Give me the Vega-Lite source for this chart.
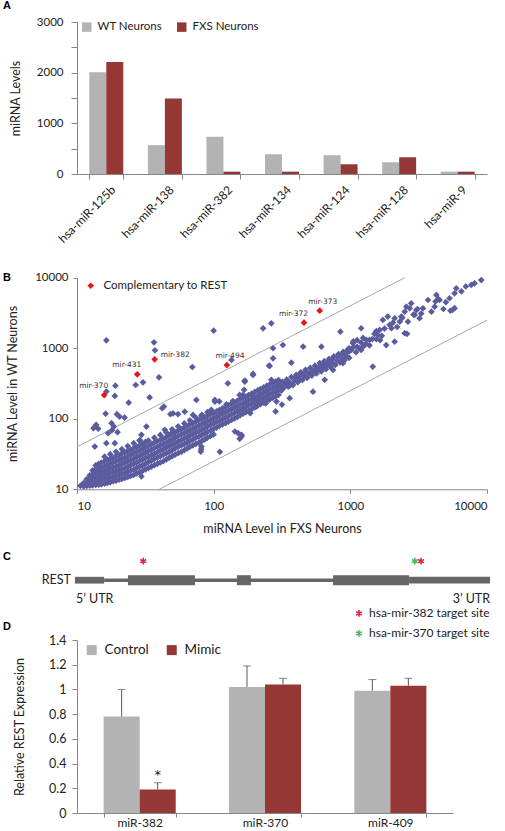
{
  "$schema": "https://vega.github.io/schema/vega-lite/v6.json",
  "background": "white",
  "padding": {"left": 3, "top": 0, "right": 0, "bottom": 0},
  "bounds": "flush",
  "spacing": 0,
  "resolve": {"scale": {"color": "independent", "xOffset": "independent", "strokeWidth": "independent", "x": "independent", "y": "independent"}},
  "config": {
    "view": {"stroke": null},
    "font": "Lato",
    "axis": {"domainColor": "#868686", "tickColor": "#868686", "labelColor": "#222222", "titleColor": "#222222", "labelFont": "Lato", "titleFont": "Lato", "titleFontWeight": "normal", "grid": false, "labelOverlap": false},
    "legend": {"labelFont": "Lato", "labelColor": "#222222", "padding": 0, "title": null},
    "title": {"font": "Liberation Sans", "fontSize": 11, "fontWeight": "bold", "color": "#000000", "anchor": "start", "frame": "group", "dx": -74, "baseline": "alphabetic"}
  },
  "datasets": {
    "lines": [
      {"band": "upper", "fxs": 10, "wt": 40}, {"band": "upper", "fxs": 2500, "wt": 10000},
      {"band": "lower", "fxs": 40, "wt": 10}, {"band": "lower", "fxs": 10000, "wt": 2500}
    ],
    "rest": [
      {"name": "mir-373", "fxs": 597, "wt": 3404, "group": "Complementary to REST"},
      {"name": "mir-372", "fxs": 458, "wt": 2303, "group": "Complementary to REST"},
      {"name": "mir-494", "fxs": 125, "wt": 578, "group": "Complementary to REST"},
      {"name": "mir-382", "fxs": 37, "wt": 696, "group": "Complementary to REST"},
      {"name": "mir-431", "fxs": 27.6, "wt": 427, "group": "Complementary to REST"},
      {"name": "mir-370", "fxs": 15.8, "wt": 217, "group": "Complementary to REST"}
    ],
    "scatter": [
      {"fxs":10.6,"wt":11.2},
      {"fxs":11.2,"wt":11},{"fxs":11.2,"wt":12.3},
      {"fxs":11.8,"wt":11.2},{"fxs":11.8,"wt":12.5},{"fxs":11.8,"wt":14},
      {"fxs":12.4,"wt":11.3},{"fxs":12.4,"wt":12.6},{"fxs":12.4,"wt":14},{"fxs":12.4,"wt":15.8},
      {"fxs":13,"wt":11.4},{"fxs":13,"wt":12.8},{"fxs":13,"wt":14.4},{"fxs":13,"wt":16.3},{"fxs":13,"wt":18.5},
      {"fxs":13.7,"wt":11.5},{"fxs":13.7,"wt":13},{"fxs":13.7,"wt":14.7},{"fxs":13.7,"wt":16.7},{"fxs":13.7,"wt":19},{"fxs":13.7,"wt":21.8},
      {"fxs":14.4,"wt":11.6},{"fxs":14.4,"wt":13.2},{"fxs":14.4,"wt":15},{"fxs":14.4,"wt":17.2},{"fxs":14.4,"wt":19.8},{"fxs":14.4,"wt":23},
      {"fxs":15.1,"wt":11.8},{"fxs":15.1,"wt":13.5},{"fxs":15.1,"wt":15.5},{"fxs":15.1,"wt":17.8},{"fxs":15.1,"wt":20.5},{"fxs":15.1,"wt":24},
      {"fxs":15.9,"wt":12},{"fxs":15.9,"wt":13.8},{"fxs":15.9,"wt":16},{"fxs":15.9,"wt":18.4},{"fxs":15.9,"wt":21.3},{"fxs":15.9,"wt":25},{"fxs":15.9,"wt":29},
      {"fxs":16.7,"wt":12.3},{"fxs":16.7,"wt":14.2},{"fxs":16.7,"wt":16.5},{"fxs":16.7,"wt":19},{"fxs":16.7,"wt":22},{"fxs":16.7,"wt":26},
      {"fxs":17.5,"wt":12.6},{"fxs":17.5,"wt":14.6},{"fxs":17.5,"wt":17},{"fxs":17.5,"wt":19.7},{"fxs":17.5,"wt":23},{"fxs":17.5,"wt":27},{"fxs":17.5,"wt":31.5},
      {"fxs":18.4,"wt":13},{"fxs":18.4,"wt":15},{"fxs":18.4,"wt":17.5},{"fxs":18.4,"wt":20.4},{"fxs":18.4,"wt":24},{"fxs":18.4,"wt":28},
      {"fxs":19.3,"wt":13.3},{"fxs":19.3,"wt":15.5},{"fxs":19.3,"wt":18},{"fxs":19.3,"wt":21},{"fxs":19.3,"wt":25},{"fxs":19.3,"wt":29.5},{"fxs":19.3,"wt":34},
      {"fxs":20.3,"wt":13.7},{"fxs":20.3,"wt":16},{"fxs":20.3,"wt":18.7},{"fxs":20.3,"wt":22},{"fxs":20.3,"wt":26},{"fxs":20.3,"wt":30.5},
      {"fxs":21.3,"wt":14},{"fxs":21.3,"wt":16.5},{"fxs":21.3,"wt":19.4},{"fxs":21.3,"wt":23},{"fxs":21.3,"wt":27},{"fxs":21.3,"wt":32},{"fxs":21.3,"wt":37},
      {"fxs":22.4,"wt":14.5},{"fxs":22.4,"wt":17},{"fxs":22.4,"wt":20},{"fxs":22.4,"wt":24},{"fxs":22.4,"wt":28},{"fxs":22.4,"wt":33.5},
      {"fxs":23.5,"wt":15},{"fxs":23.5,"wt":17.7},{"fxs":23.5,"wt":21},{"fxs":23.5,"wt":25},{"fxs":23.5,"wt":29.5},{"fxs":23.5,"wt":35},{"fxs":23.5,"wt":41},
      {"fxs":24.7,"wt":15.5},{"fxs":24.7,"wt":18.4},{"fxs":24.7,"wt":22},{"fxs":24.7,"wt":26},{"fxs":24.7,"wt":31},{"fxs":24.7,"wt":36.5},
      {"fxs":26,"wt":16},{"fxs":26,"wt":19},{"fxs":26,"wt":23},{"fxs":26,"wt":27.3},{"fxs":26,"wt":32.5},{"fxs":26,"wt":38.5},{"fxs":26,"wt":45},
      {"fxs":27.3,"wt":16.8},{"fxs":27.3,"wt":20},{"fxs":27.3,"wt":24},{"fxs":27.3,"wt":28.6},{"fxs":27.3,"wt":34},{"fxs":27.3,"wt":40},
      {"fxs":28.7,"wt":17.5},{"fxs":28.7,"wt":21},{"fxs":28.7,"wt":25.2},{"fxs":28.7,"wt":30},{"fxs":28.7,"wt":35.5},{"fxs":28.7,"wt":42},{"fxs":28.7,"wt":49},
      {"fxs":30.2,"wt":18.3},{"fxs":30.2,"wt":22},{"fxs":30.2,"wt":26.5},{"fxs":30.2,"wt":31.5},{"fxs":30.2,"wt":37.5},{"fxs":30.2,"wt":44},
      {"fxs":31.7,"wt":19.2},{"fxs":31.7,"wt":23},{"fxs":31.7,"wt":27.8},{"fxs":31.7,"wt":33},{"fxs":31.7,"wt":39.5},{"fxs":31.7,"wt":47},
      {"fxs":33.3,"wt":20},{"fxs":33.3,"wt":24.3},{"fxs":33.3,"wt":29},{"fxs":33.3,"wt":35},{"fxs":33.3,"wt":41.5},{"fxs":33.3,"wt":49},
      {"fxs":35,"wt":21},{"fxs":35,"wt":25.5},{"fxs":35,"wt":30.5},{"fxs":35,"wt":36.5},{"fxs":35,"wt":43.5},
      {"fxs":36.8,"wt":22},{"fxs":36.8,"wt":27},{"fxs":36.8,"wt":32},{"fxs":36.8,"wt":38.5},{"fxs":36.8,"wt":46},{"fxs":36.8,"wt":54},
      {"fxs":38.7,"wt":23},{"fxs":38.7,"wt":28},{"fxs":38.7,"wt":33.5},{"fxs":38.7,"wt":40},{"fxs":38.7,"wt":48},
      {"fxs":40.7,"wt":24},{"fxs":40.7,"wt":29.5},{"fxs":40.7,"wt":35.5},{"fxs":40.7,"wt":42},{"fxs":40.7,"wt":50},{"fxs":40.7,"wt":59},
      {"fxs":42.8,"wt":25},{"fxs":42.8,"wt":31},{"fxs":42.8,"wt":37},{"fxs":42.8,"wt":44},{"fxs":42.8,"wt":52.5},
      {"fxs":45,"wt":26.5},{"fxs":45,"wt":32.5},{"fxs":45,"wt":39},{"fxs":45,"wt":46},{"fxs":45,"wt":55},{"fxs":45,"wt":64},
      {"fxs":47.3,"wt":28},{"fxs":47.3,"wt":34},{"fxs":47.3,"wt":41},{"fxs":47.3,"wt":48.5},{"fxs":47.3,"wt":58},
      {"fxs":49.7,"wt":29.5},{"fxs":49.7,"wt":36},{"fxs":49.7,"wt":43},{"fxs":49.7,"wt":51},{"fxs":49.7,"wt":61},{"fxs":49.7,"wt":71},
      {"fxs":52.2,"wt":31},{"fxs":52.2,"wt":38},{"fxs":52.2,"wt":45},{"fxs":52.2,"wt":54},{"fxs":52.2,"wt":64},
      {"fxs":55,"wt":32.5},{"fxs":55,"wt":40},{"fxs":55,"wt":47.5},{"fxs":55,"wt":57},{"fxs":55,"wt":68},{"fxs":55,"wt":78},
      {"fxs":58,"wt":34},{"fxs":58,"wt":42},{"fxs":58,"wt":50},{"fxs":58,"wt":60},{"fxs":58,"wt":71},
      {"fxs":61,"wt":36},{"fxs":61,"wt":44},{"fxs":61,"wt":52.5},{"fxs":61,"wt":63},{"fxs":61,"wt":75},{"fxs":61,"wt":86},
      {"fxs":64,"wt":38},{"fxs":64,"wt":46},{"fxs":64,"wt":55},{"fxs":64,"wt":66},{"fxs":64,"wt":79},
      {"fxs":67,"wt":40},{"fxs":67,"wt":48.5},{"fxs":67,"wt":58},{"fxs":67,"wt":69},{"fxs":67,"wt":83},{"fxs":67,"wt":95},
      {"fxs":70.5,"wt":42},{"fxs":70.5,"wt":51},{"fxs":70.5,"wt":61},{"fxs":70.5,"wt":73},{"fxs":70.5,"wt":87},
      {"fxs":74,"wt":44},{"fxs":74,"wt":54},{"fxs":74,"wt":64},{"fxs":74,"wt":76},{"fxs":74,"wt":91},{"fxs":74,"wt":104},
      {"fxs":78,"wt":46},{"fxs":78,"wt":56},{"fxs":78,"wt":67},{"fxs":78,"wt":80},{"fxs":78,"wt":96},
      {"fxs":82,"wt":48.5},{"fxs":82,"wt":59},{"fxs":82,"wt":70.5},{"fxs":82,"wt":84},{"fxs":82,"wt":100},{"fxs":82,"wt":114},
      {"fxs":86,"wt":51},{"fxs":86,"wt":62},{"fxs":86,"wt":74},{"fxs":86,"wt":88},{"fxs":86,"wt":105},
      {"fxs":90,"wt":54},{"fxs":90,"wt":65},{"fxs":90,"wt":78},{"fxs":90,"wt":92},{"fxs":90,"wt":110},{"fxs":90,"wt":124},
      {"fxs":95,"wt":57},{"fxs":95,"wt":68},{"fxs":95,"wt":82},{"fxs":95,"wt":97},{"fxs":95,"wt":116},
      {"fxs":100,"wt":60},{"fxs":100,"wt":72},{"fxs":100,"wt":86},{"fxs":100,"wt":102},{"fxs":100,"wt":121},
      {"fxs":105,"wt":75},{"fxs":105,"wt":90},{"fxs":105,"wt":107},{"fxs":105,"wt":127},
      {"fxs":110,"wt":79},{"fxs":110,"wt":94},{"fxs":110,"wt":112},{"fxs":110,"wt":133},
      {"fxs":116,"wt":83},{"fxs":116,"wt":99},{"fxs":116,"wt":118},{"fxs":116,"wt":140},
      {"fxs":122,"wt":87},{"fxs":122,"wt":104},{"fxs":122,"wt":124},{"fxs":122,"wt":147},
      {"fxs":128,"wt":91},{"fxs":128,"wt":109},{"fxs":128,"wt":130},{"fxs":128,"wt":155},
      {"fxs":135,"wt":96},{"fxs":135,"wt":115},{"fxs":135,"wt":137},{"fxs":135,"wt":163},
      {"fxs":142,"wt":101},{"fxs":142,"wt":121},{"fxs":142,"wt":144},{"fxs":142,"wt":171},
      {"fxs":149,"wt":106},{"fxs":149,"wt":127},{"fxs":149,"wt":151},{"fxs":149,"wt":180},
      {"fxs":156,"wt":112},{"fxs":156,"wt":133},{"fxs":156,"wt":158},{"fxs":156,"wt":189},
      {"fxs":164,"wt":118},{"fxs":164,"wt":140},{"fxs":164,"wt":166},{"fxs":164,"wt":198},
      {"fxs":172,"wt":124},{"fxs":172,"wt":147},{"fxs":172,"wt":174},{"fxs":172,"wt":207},
      {"fxs":180,"wt":130},{"fxs":180,"wt":155},{"fxs":180,"wt":183},{"fxs":180,"wt":217},
      {"fxs":190,"wt":137},{"fxs":190,"wt":163},{"fxs":190,"wt":192},{"fxs":190,"wt":228},
      {"fxs":200,"wt":145},{"fxs":200,"wt":172},{"fxs":200,"wt":202},{"fxs":200,"wt":240},
      {"fxs":210,"wt":153},{"fxs":210,"wt":181},{"fxs":210,"wt":212},{"fxs":210,"wt":252},
      {"fxs":220,"wt":161},{"fxs":220,"wt":190},{"fxs":220,"wt":223},{"fxs":220,"wt":264},
      {"fxs":232,"wt":169},{"fxs":232,"wt":200},{"fxs":232,"wt":235},{"fxs":232,"wt":278},
      {"fxs":244,"wt":178},{"fxs":244,"wt":210},{"fxs":244,"wt":247},{"fxs":244,"wt":292},
      {"fxs":256,"wt":187},{"fxs":256,"wt":221},{"fxs":256,"wt":260},{"fxs":256,"wt":306},
      {"fxs":270,"wt":197},{"fxs":270,"wt":232},{"fxs":270,"wt":273},{"fxs":270,"wt":321},
      {"fxs":284,"wt":207},{"fxs":284,"wt":244},{"fxs":284,"wt":287},{"fxs":284,"wt":337},
      {"fxs":298,"wt":218},{"fxs":298,"wt":257},{"fxs":298,"wt":302},{"fxs":298,"wt":354},
      {"fxs":305,"wt":290},{"fxs":312,"wt":250},{"fxs":318,"wt":335},{"fxs":326,"wt":275},{"fxs":334,"wt":305},{"fxs":343,"wt":360},{"fxs":352,"wt":285},{"fxs":361,"wt":325},{"fxs":371,"wt":390},{"fxs":381,"wt":300},{"fxs":391,"wt":345},{"fxs":402,"wt":420},{"fxs":412,"wt":330},{"fxs":423,"wt":370},{"fxs":434,"wt":455},{"fxs":446,"wt":355},{"fxs":458,"wt":400},{"fxs":470,"wt":495},{"fxs":483,"wt":380},{"fxs":496,"wt":430},{"fxs":509,"wt":525},{"fxs":523,"wt":410},{"fxs":537,"wt":470},{"fxs":551,"wt":565},{"fxs":566,"wt":440},{"fxs":581,"wt":505},{"fxs":597,"wt":615},{"fxs":613,"wt":470},{"fxs":629,"wt":540},{"fxs":646,"wt":655},{"fxs":663,"wt":505},{"fxs":681,"wt":580},{"fxs":699,"wt":705},{"fxs":718,"wt":540},{"fxs":737,"wt":620},{"fxs":757,"wt":765},{"fxs":777,"wt":580},{"fxs":798,"wt":670},{"fxs":819,"wt":825},{"fxs":841,"wt":630},{"fxs":863,"wt":720},{"fxs":886,"wt":885},{"fxs":909,"wt":680},{"fxs":933,"wt":770},{"fxs":957,"wt":955},{"fxs":981,"wt":730},
      {"fxs":320,"wt":300},{"fxs":340,"wt":330},{"fxs":365,"wt":300},{"fxs":395,"wt":380},{"fxs":420,"wt":400},{"fxs":450,"wt":430},{"fxs":480,"wt":460},{"fxs":520,"wt":470},{"fxs":560,"wt":520},{"fxs":600,"wt":560},{"fxs":640,"wt":600},{"fxs":690,"wt":640},{"fxs":740,"wt":700},{"fxs":800,"wt":760},{"fxs":860,"wt":800},{"fxs":920,"wt":860},{"fxs":980,"wt":900},
      {"fxs":284,"wt":127},{"fxs":316,"wt":159},{"fxs":288,"wt":175},{"fxs":223,"wt":175},{"fxs":360,"wt":196},{"fxs":533,"wt":242},{"fxs":649,"wt":356},{"fxs":747,"wt":493},{"fxs":883,"wt":614},{"fxs":264,"wt":356},{"fxs":313,"wt":319},{"fxs":194,"wt":206},{"fxs":164,"wt":218},{"fxs":169,"wt":348},{"fxs":194,"wt":432},{"fxs":257,"wt":561},{"fxs":370,"wt":625},{"fxs":135,"wt":682},{"fxs":102,"wt":175},{"fxs":111,"wt":34},{"fxs":81,"wt":37},{"fxs":143,"wt":66},{"fxs":160,"wt":59},{"fxs":155,"wt":52},{"fxs":414,"wt":336},{"fxs":230,"wt":1914},{"fxs":264,"wt":2254},{"fxs":321,"wt":1112},{"fxs":272,"wt":1000},{"fxs":451,"wt":1052},{"fxs":614,"wt":1052},{"fxs":272,"wt":719},{"fxs":254,"wt":566},{"fxs":194,"wt":418},{"fxs":169,"wt":336},{"fxs":127,"wt":318},{"fxs":74.7,"wt":185},{"fxs":61.4,"wt":126},{"fxs":50.4,"wt":119},{"fxs":42,"wt":141},{"fxs":845,"wt":1718},
      {"fxs":102,"wt":185},{"fxs":110,"wt":176},{"fxs":70.6,"wt":113.5},{"fxs":81.3,"wt":110},{"fxs":96,"wt":134},{"fxs":114,"wt":127},{"fxs":155,"wt":218},{"fxs":167,"wt":257},{"fxs":151,"wt":62.5},{"fxs":160,"wt":56},{"fxs":43.9,"wt":69.7},{"fxs":50.4,"wt":62.5},{"fxs":28.8,"wt":50},{"fxs":81.3,"wt":40.4},{"fxs":80.5,"wt":34.3},{"fxs":124,"wt":160},{"fxs":138,"wt":178},{"fxs":205,"wt":150},{"fxs":240,"wt":165},{"fxs":185,"wt":120},
      {"fxs":16.4,"wt":1294},{"fxs":36.6,"wt":1213},{"fxs":37.2,"wt":934},{"fxs":100,"wt":1774},{"fxs":69.8,"wt":542},{"fxs":39.8,"wt":387},{"fxs":30.4,"wt":329},{"fxs":26.9,"wt":301},{"fxs":19.1,"wt":295},{"fxs":16.4,"wt":243},{"fxs":18.9,"wt":211},{"fxs":34,"wt":201},{"fxs":23.9,"wt":169},{"fxs":16.2,"wt":118},{"fxs":19.6,"wt":116},{"fxs":22.3,"wt":104},{"fxs":20.5,"wt":107},{"fxs":13.8,"wt":82},{"fxs":14.3,"wt":72.4},{"fxs":13.5,"wt":40.3},{"fxs":18,"wt":69},{"fxs":17.9,"wt":86.7},{"fxs":18.6,"wt":77.6},{"fxs":19.8,"wt":64.6},{"fxs":16.9,"wt":62.5},{"fxs":13.2,"wt":73.6},{"fxs":16.4,"wt":45},{"fxs":18.9,"wt":45},{"fxs":32.2,"wt":77.6},{"fxs":29.6,"wt":59.2},{"fxs":49.1,"wt":62.5},{"fxs":43.2,"wt":149},{"fxs":48.2,"wt":116},{"fxs":54.8,"wt":116},{"fxs":29.6,"wt":15.2},
      {"fxs":935,"wt":849},{"fxs":1015,"wt":946},{"fxs":1045,"wt":1180},{"fxs":1060,"wt":1050},{"fxs":1100,"wt":880},{"fxs":1120,"wt":1300},{"fxs":1160,"wt":1000},{"fxs":1200,"wt":1200},{"fxs":1200,"wt":946},{"fxs":1240,"wt":1050},{"fxs":1240,"wt":1400},{"fxs":1310,"wt":1310},{"fxs":1380,"wt":1310},{"fxs":1380,"wt":1100},{"fxs":1460,"wt":548},{"fxs":1500,"wt":1600},{"fxs":1550,"wt":1350},{"fxs":1590,"wt":1540},{"fxs":1640,"wt":1820},{"fxs":1700,"wt":1500},{"fxs":1730,"wt":2520},{"fxs":1780,"wt":1900},{"fxs":1830,"wt":1110},{"fxs":1880,"wt":2810},{"fxs":1940,"wt":2140},{"fxs":2000,"wt":1920},{"fxs":2050,"wt":2300},{"fxs":2110,"wt":2660},{"fxs":2110,"wt":1240},{"fxs":2200,"wt":2000},{"fxs":2300,"wt":2380},{"fxs":2360,"wt":2810},{"fxs":2500,"wt":1630},{"fxs":2500,"wt":3300},{"fxs":2570,"wt":3880},{"fxs":2640,"wt":2380},{"fxs":2720,"wt":3680},{"fxs":2790,"wt":4330},{"fxs":2900,"wt":3000},{"fxs":2960,"wt":2960},{"fxs":3040,"wt":3480},{"fxs":3210,"wt":2660},{"fxs":3300,"wt":3100},{"fxs":3400,"wt":3680},{"fxs":3700,"wt":4830},{"fxs":3920,"wt":3300},{"fxs":4140,"wt":3880},{"fxs":4260,"wt":5690},{"fxs":4500,"wt":4830},{"fxs":4800,"wt":3600},{"fxs":5000,"wt":4500},{"fxs":5320,"wt":5110},{"fxs":5400,"wt":3400},{"fxs":5600,"wt":3500},{"fxs":5800,"wt":3700},{"fxs":5790,"wt":6010},{"fxs":5960,"wt":7080},{"fxs":6500,"wt":6400},{"fxs":7000,"wt":7500},{"fxs":7670,"wt":7890},{"fxs":8110,"wt":8320},{"fxs":9080,"wt":9270},{"fxs":2600,"wt":1600},{"fxs":1200,"wt":1920},{"fxs":4200,"wt":4600},{"fxs":4400,"wt":5000},{"fxs":3100,"wt":3600},{"fxs":2400,"wt":2700},{"fxs":1650,"wt":1300},{"fxs":1300,"wt":1150},{"fxs":1450,"wt":1350},{"fxs":1550,"wt":1750},{"fxs":1050,"wt":1250},{"fxs":1120,"wt":1050},{"fxs":980,"wt":1000}
    ]
  },
  "vconcat": [
    {
      "width": 410,
      "height": 152,
      "title": {"text": "A", "offset": 5},
      "data": {"values": [
        {"mirna": "hsa-miR-125b", "cell": "WT Neurons", "level": 2010},
        {"mirna": "hsa-miR-125b", "cell": "FXS Neurons", "level": 2210},
        {"mirna": "hsa-miR-138", "cell": "WT Neurons", "level": 570},
        {"mirna": "hsa-miR-138", "cell": "FXS Neurons", "level": 1490},
        {"mirna": "hsa-miR-382", "cell": "WT Neurons", "level": 735},
        {"mirna": "hsa-miR-382", "cell": "FXS Neurons", "level": 46},
        {"mirna": "hsa-miR-134", "cell": "WT Neurons", "level": 390},
        {"mirna": "hsa-miR-134", "cell": "FXS Neurons", "level": 46},
        {"mirna": "hsa-miR-124", "cell": "WT Neurons", "level": 370},
        {"mirna": "hsa-miR-124", "cell": "FXS Neurons", "level": 192},
        {"mirna": "hsa-miR-128", "cell": "WT Neurons", "level": 232},
        {"mirna": "hsa-miR-128", "cell": "FXS Neurons", "level": 331},
        {"mirna": "hsa-miR-9", "cell": "WT Neurons", "level": 46},
        {"mirna": "hsa-miR-9", "cell": "FXS Neurons", "level": 46}
      ]},
      "mark": {"type": "bar"},
      "encoding": {
        "x": {"field": "mirna", "type": "nominal", "sort": ["hsa-miR-125b", "hsa-miR-138", "hsa-miR-382", "hsa-miR-134", "hsa-miR-124", "hsa-miR-128", "hsa-miR-9"],
          "scale": {"paddingInner": 0.42, "paddingOuter": 0.21},
          "axis": {"title": null, "labelAngle": -45, "tickBand": "extent", "tickSize": 5, "labelPadding": 5, "labelOffset": 3, "labelFontSize": 12}},
        "xOffset": {"field": "cell", "type": "nominal", "sort": ["WT Neurons", "FXS Neurons"]},
        "y": {"field": "level", "type": "quantitative", "scale": {"domain": [0, 3000]},
          "axis": {"values": [0, 500, 1000, 1500, 2000, 2500, 3000], "tickCount": 20, "format": "d", "labelExpr": "datum.value % 1000 === 0 ? datum.label : ''", "title": "miRNA Levels", "tickSize": 6, "labelPadding": 8, "titlePadding": 14, "labelFontSize": 11.5, "titleFontSize": 12.5, "labelOverlap": false}},
        "color": {"field": "cell", "type": "nominal", "scale": {"domain": ["WT Neurons", "FXS Neurons"], "range": ["#b3b3b3", "#953735"]},
          "legend": {"orient": "none", "legendX": 4, "legendY": -1, "direction": "horizontal", "symbolType": "square", "symbolSize": 90, "labelFontSize": 11.5, "labelOffset": 5, "columnPadding": 13}}
      }
    },
    {
      "width": 410,
      "height": 315.3,
      "title": {"text": "B", "offset": -109.3},
      "layer": [
        {
          "data": {"name": "lines"},
          "mark": {"type": "line", "color": "#a9a9a9", "strokeWidth": 1},
          "encoding": {
            "x": {"field": "fxs", "type": "quantitative", "scale": {"type": "log", "domain": [10, 10000]},
              "axis": {"values": [10, 100, 1000, 10000], "format": "d", "title": "miRNA Level in FXS Neurons", "tickSize": 4, "labelPadding": 7, "titlePadding": 11, "labelFontSize": 11.5, "titleFontSize": 12.5, "labelOverlap": false}},
            "y": {"field": "wt", "type": "quantitative", "scale": {"type": "log", "domain": [10, 10000], "range": [315.3, 103.7]},
              "axis": {"values": [10, 100, 1000, 10000], "format": "d", "title": "miRNA Level in WT Neurons", "tickSize": 4, "labelPadding": 5, "titlePadding": 15, "labelFontSize": 11.5, "titleFontSize": 12.5, "labelOverlap": false}},
            "detail": {"field": "band", "type": "nominal"}
          }
        },
        {
          "data": {"name": "scatter"},
          "mark": {"type": "point", "shape": "diamond", "filled": true, "color": "#5a5c9e", "size": 45, "opacity": 1},
          "encoding": {
            "x": {"field": "fxs", "type": "quantitative"},
            "y": {"field": "wt", "type": "quantitative"}
          }
        },
        {
          "data": {"name": "rest"},
          "mark": {"type": "point", "shape": "diamond", "filled": true, "size": 45, "opacity": 1},
          "encoding": {
            "x": {"field": "fxs", "type": "quantitative"},
            "y": {"field": "wt", "type": "quantitative"},
            "color": {"field": "group", "type": "nominal", "scale": {"range": ["#e8141c"]},
              "legend": {"orient": "none", "legendX": 8, "legendY": 106, "symbolType": "diamond", "symbolSize": 45, "labelFontSize": 11.5, "labelOffset": 7}}
          }
        },
        {
          "data": {"name": "rest"},
          "transform": [{"filter": {"field": "name", "oneOf": ["mir-373", "mir-494"]}}],
          "mark": {"type": "text", "align": "center", "dx": 3, "dy": -9, "fontSize": 7.5, "font": "DejaVu Sans", "color": "#333333"},
          "encoding": {"x": {"field": "fxs", "type": "quantitative"}, "y": {"field": "wt", "type": "quantitative"}, "text": {"field": "name"}}
        },
        {
          "data": {"name": "rest"},
          "transform": [{"filter": {"field": "name", "oneOf": ["mir-372", "mir-431", "mir-370"]}}],
          "mark": {"type": "text", "align": "right", "dx": 4, "dy": -9, "fontSize": 7.5, "font": "DejaVu Sans", "color": "#333333"},
          "encoding": {"x": {"field": "fxs", "type": "quantitative"}, "y": {"field": "wt", "type": "quantitative"}, "text": {"field": "name"}}
        },
        {
          "data": {"name": "rest"},
          "transform": [{"filter": {"field": "name", "oneOf": ["mir-382"]}}],
          "mark": {"type": "text", "align": "left", "dx": 6, "dy": -4, "fontSize": 7.5, "font": "DejaVu Sans", "color": "#333333"},
          "encoding": {"x": {"field": "fxs", "type": "quantitative"}, "y": {"field": "wt", "type": "quantitative"}, "text": {"field": "name"}}
        }
      ]
    },
    {
      "width": 411,
      "height": 149.7,
      "title": {"text": "C", "offset": -72.4},
      "layer": [
        {
          "data": {"values": [
            {"kind": "intron", "track": "gene", "start": 6.6, "end": 80.8},
            {"kind": "UTR", "track": "gene", "start": -0.5, "end": 6.6},
            {"kind": "exon", "track": "gene", "start": 12.4, "end": 28.7},
            {"kind": "exon", "track": "gene", "start": 38.9, "end": 42.3},
            {"kind": "exon", "track": "gene", "start": 62.3, "end": 80.8},
            {"kind": "UTR", "track": "gene", "start": 80.8, "end": 100.5}
          ]},
          "mark": {"type": "rule", "color": "#666666", "strokeCap": "butt"},
          "encoding": {
            "x": {"field": "start", "type": "quantitative", "scale": {"domain": [0, 100]}, "axis": null},
            "x2": {"field": "end"},
            "y": {"field": "track", "type": "nominal", "scale": {"type": "point", "domain": ["site", "gene", "label"], "range": [71.2, 109.2], "padding": 0}, "axis": null},
            "strokeWidth": {"field": "kind", "type": "nominal", "scale": {"domain": ["intron", "UTR", "exon"], "range": [3.5, 10, 23]}, "legend": null}
          }
        },
        {
          "data": {"values": [
            {"site": "hsa-mir-382 target site", "track": "site", "pos": 16.1},
            {"site": "hsa-mir-370 target site", "track": "site", "pos": 82.2},
            {"site": "hsa-mir-382 target site", "track": "site", "pos": 83.7}
          ]},
          "mark": {"type": "point", "shape": "M0,-1L0,1M-0.87,-0.5L0.87,0.5M-0.87,0.5L0.87,-0.5", "filled": false, "strokeWidth": 1.6, "size": 45, "opacity": 1},
          "encoding": {
            "x": {"field": "pos", "type": "quantitative", "scale": {"domain": [0, 100]}, "axis": null},
            "y": {"field": "track", "type": "nominal", "scale": {"type": "point", "domain": ["site", "gene", "label"], "range": [71.2, 109.2], "padding": 0}, "axis": null},
            "color": {"field": "site", "type": "nominal", "scale": {"domain": ["hsa-mir-382 target site", "hsa-mir-370 target site"], "range": ["#dc2a46", "#4cbb5c"]},
              "legend": {"orient": "none", "legendX": 276, "legendY": 117.4, "symbolType": "M0,-1L0,1M-0.87,-0.5L0.87,0.5M-0.87,0.5L0.87,-0.5", "symbolSize": 45, "symbolStrokeWidth": 1.6, "labelFontSize": 12, "labelOffset": 4, "rowPadding": 6}}
          }
        },
        {
          "data": {"values": [{"label": "REST", "track": "gene", "pos": -0.5}]},
          "mark": {"type": "text", "align": "right", "dx": -4, "fontSize": 12.5, "color": "#222222"},
          "encoding": {
            "x": {"field": "pos", "type": "quantitative", "scale": {"domain": [0, 100]}, "axis": null},
            "y": {"field": "track", "type": "nominal", "scale": {"type": "point", "domain": ["site", "gene", "label"], "range": [71.2, 109.2], "padding": 0}, "axis": null},
            "text": {"field": "label"}
          }
        },
        {
          "data": {"values": [{"label": "5’ UTR", "track": "label", "pos": -0.5}]},
          "mark": {"type": "text", "align": "left", "dx": 1, "fontSize": 12.5, "color": "#222222"},
          "encoding": {
            "x": {"field": "pos", "type": "quantitative", "scale": {"domain": [0, 100]}, "axis": null},
            "y": {"field": "track", "type": "nominal", "scale": {"type": "point", "domain": ["site", "gene", "label"], "range": [71.2, 109.2], "padding": 0}, "axis": null},
            "text": {"field": "label"}
          }
        },
        {
          "data": {"values": [{"label": "3’ UTR", "track": "label", "pos": 100.5}]},
          "mark": {"type": "text", "align": "right", "dx": 0, "fontSize": 12.5, "color": "#222222"},
          "encoding": {
            "x": {"field": "pos", "type": "quantitative", "scale": {"domain": [0, 100]}, "axis": null},
            "y": {"field": "track", "type": "nominal", "scale": {"type": "point", "domain": ["site", "gene", "label"], "range": [71.2, 109.2], "padding": 0}, "axis": null},
            "text": {"field": "label"}
          }
        }
      ]
    },
    {
      "width": 376,
      "height": 173,
      "title": {"text": "D", "offset": 2},
      "data": {"values": [
        {"mir": "miR-382", "cond": "Control", "val": 0.78, "hi": 1.0},
        {"mir": "miR-382", "cond": "Mimic", "val": 0.19, "hi": 0.245, "sig": "*"},
        {"mir": "miR-370", "cond": "Control", "val": 1.02, "hi": 1.19},
        {"mir": "miR-370", "cond": "Mimic", "val": 1.04, "hi": 1.09},
        {"mir": "miR-409", "cond": "Control", "val": 0.99, "hi": 1.08},
        {"mir": "miR-409", "cond": "Mimic", "val": 1.03, "hi": 1.09}
      ]},
      "encoding": {
        "x": {"field": "mir", "type": "nominal", "sort": ["miR-382", "miR-370", "miR-409"],
          "scale": {"paddingInner": 0.425, "paddingOuter": 0.2125},
          "axis": {"title": null, "labelAngle": 0, "tickBand": "extent", "tickSize": 4, "labelPadding": 0, "labelFontSize": 12}},
        "xOffset": {"field": "cond", "type": "nominal", "sort": ["Control", "Mimic"]}
      },
      "layer": [
        {
          "mark": {"type": "bar"},
          "encoding": {
            "y": {"field": "val", "type": "quantitative", "scale": {"domain": [0, 1.4]},
              "axis": {"values": [0, 0.2, 0.4, 0.6, 0.8, 1, 1.2, 1.4], "tickCount": 20, "format": "~f", "labelOverlap": false, "title": "Relative REST Expression", "tickSize": 5, "labelPadding": 6, "titlePadding": 22, "labelFontSize": 12.5, "titleFontSize": 12.5}},
            "color": {"field": "cond", "type": "nominal", "scale": {"domain": ["Control", "Mimic"], "range": ["#b3b3b3", "#953735"]},
              "legend": {"orient": "none", "legendX": 8, "legendY": 3, "direction": "horizontal", "symbolType": "square", "symbolSize": 100, "labelFontSize": 13.5, "labelOffset": 6, "columnPadding": 16}}
          }
        },
        {
          "mark": {"type": "rule", "color": "#555555", "strokeWidth": 1},
          "encoding": {"y": {"field": "val", "type": "quantitative"}, "y2": {"field": "hi"}}
        },
        {
          "mark": {"type": "tick", "color": "#555555", "thickness": 1, "size": 8},
          "encoding": {"y": {"field": "hi", "type": "quantitative"}}
        },
        {
          "transform": [{"filter": "isValid(datum.sig)"}],
          "mark": {"type": "text", "dy": -8, "fontSize": 13, "font": "DejaVu Sans", "color": "#222222"},
          "encoding": {"y": {"field": "hi", "type": "quantitative"}, "text": {"field": "sig"}}
        }
      ]
    }
  ]
}
